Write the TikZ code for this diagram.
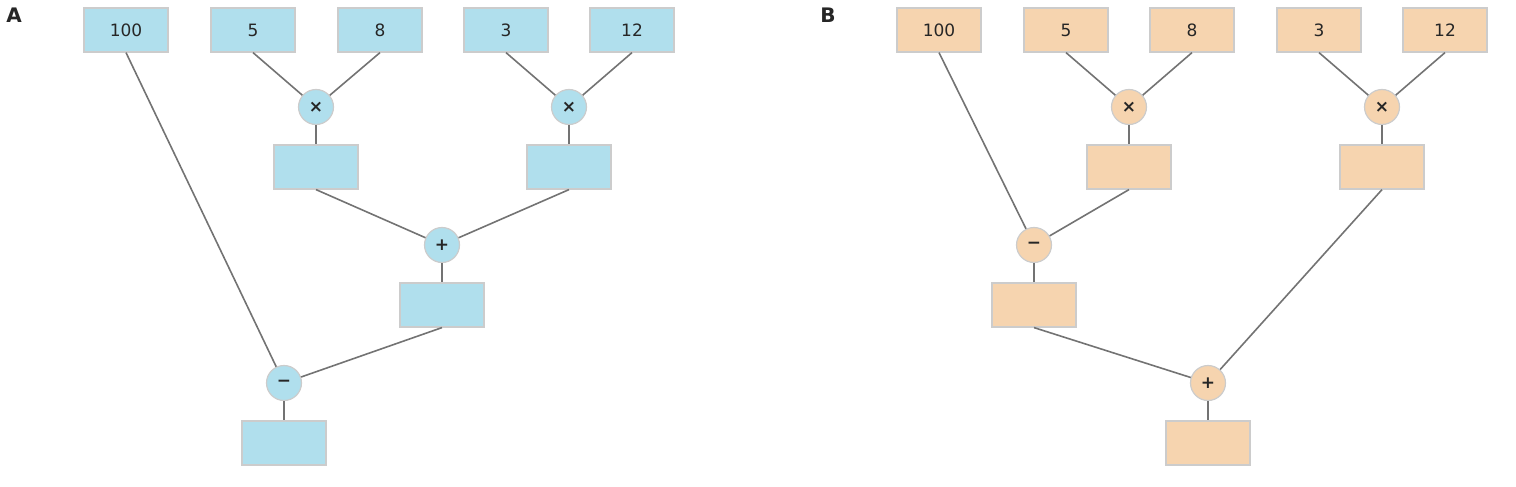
\documentclass[tikz,border=0pt]{standalone}
\usepackage{fontspec}
\setmainfont{DejaVu Sans}
\begin{document}
\begin{tikzpicture}[x=1pt,y=-1pt,
 box/.style={draw=black!20,line width=1.2pt,minimum width=84pt,minimum height=44pt,inner sep=0pt,font=\fontsize{17}{20}\selectfont,text=black!85},
 op/.style={circle,draw=black!20,line width=1.2pt,minimum size=35pt,inner sep=0pt,font=\fontsize{17}{20}\selectfont\bfseries,text=black!85},
 ln/.style={draw=black!55,line width=1.6pt},
 lab/.style={font=\fontsize{20}{24}\selectfont\bfseries,text=black!85}]
\useasboundingbox (0,0) rectangle (1516,487);
\colorlet{cA}{cyan!30!white}
\definecolor{cA}{HTML}{B0DFED}
\definecolor{cB}{HTML}{F6D4AF}
\node[lab] (LA) at (14,15) {A};
\node[lab] (LB) at (828,15) {B};
% Panel A
\node[box,fill=cA] (a100) at (126,30) {100};
\node[box,fill=cA] (a5) at (253,30) {5};
\node[box,fill=cA] (a8) at (380,30) {8};
\node[box,fill=cA] (a3) at (506,30) {3};
\node[box,fill=cA] (a12) at (632,30) {12};
\node[op,fill=cA] (am1) at (316,107) {×};
\node[op,fill=cA] (am2) at (569,107) {×};
\node[box,fill=cA] (ar1) at (316,167) {};
\node[box,fill=cA] (ar2) at (569,167) {};
\node[op,fill=cA] (aplus) at (442,245) {+};
\node[box,fill=cA] (ar3) at (442,305) {};
\node[op,fill=cA] (aminus) at (284,383) {−};
\node[box,fill=cA] (ar4) at (284,443) {};
\begin{scope}[on background layer/.style={}]
\draw[ln] (a5.south) -- (am1);
\draw[ln] (a8.south) -- (am1);
\draw[ln] (a3.south) -- (am2);
\draw[ln] (a12.south) -- (am2);
\draw[ln] (am1) -- (ar1.north);
\draw[ln] (am2) -- (ar2.north);
\draw[ln] (ar1.south) -- (aplus);
\draw[ln] (ar2.south) -- (aplus);
\draw[ln] (aplus) -- (ar3.north);
\draw[ln] (ar3.south) -- (aminus);
\draw[ln] (a100.south) -- (aminus);
\draw[ln] (aminus) -- (ar4.north);
\end{scope}
% Panel B
\node[box,fill=cB] (b100) at (939,30) {100};
\node[box,fill=cB] (b5) at (1066,30) {5};
\node[box,fill=cB] (b8) at (1192,30) {8};
\node[box,fill=cB] (b3) at (1319,30) {3};
\node[box,fill=cB] (b12) at (1445,30) {12};
\node[op,fill=cB] (bm1) at (1129,107) {×};
\node[op,fill=cB] (bm2) at (1382,107) {×};
\node[box,fill=cB] (br1) at (1129,167) {};
\node[box,fill=cB] (br2) at (1382,167) {};
\node[op,fill=cB] (bminus) at (1034,245) {−};
\node[box,fill=cB] (br3) at (1034,305) {};
\node[op,fill=cB] (bplus) at (1208,383) {+};
\node[box,fill=cB] (br4) at (1208,443) {};
\draw[ln] (b5.south) -- (bm1);
\draw[ln] (b8.south) -- (bm1);
\draw[ln] (b3.south) -- (bm2);
\draw[ln] (b12.south) -- (bm2);
\draw[ln] (bm1) -- (br1.north);
\draw[ln] (bm2) -- (br2.north);
\draw[ln] (b100.south) -- (bminus);
\draw[ln] (br1.south) -- (bminus);
\draw[ln] (bminus) -- (br3.north);
\draw[ln] (br3.south) -- (bplus);
\draw[ln] (br2.south) -- (bplus);
\draw[ln] (bplus) -- (br4.north);
\end{tikzpicture}
\end{document}
